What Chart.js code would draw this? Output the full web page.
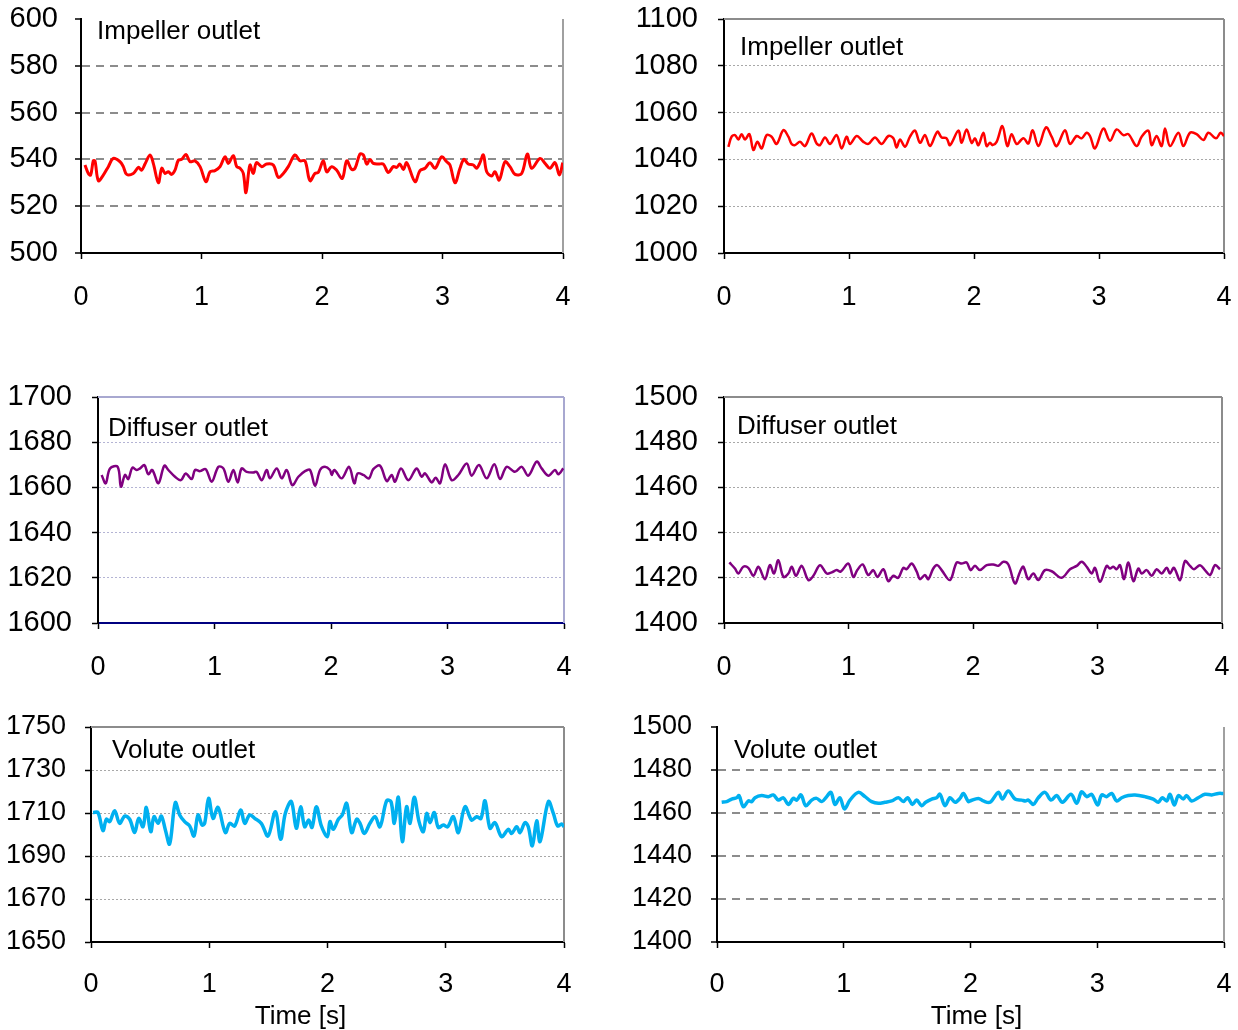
<!DOCTYPE html>
<html>
<head>
<meta charset="utf-8">
<script src="https://cdn.jsdelivr.net/npm/chart.js@4/dist/chart.umd.min.js"></script>
<style>
  html, body { margin: 0; padding: 0; background: #fff; overflow: hidden; }
  #wrap { position: relative; width: 1238px; height: 1030px; }
  #wrap canvas { position: absolute; left: 0; top: 0; }
</style>
</head>
<body>
<div id="wrap">
  <canvas id="c1" width="1238" height="1030"></canvas>
  <canvas id="c2" width="1238" height="1030"></canvas>
  <canvas id="c3" width="1238" height="1030"></canvas>
  <canvas id="c4" width="1238" height="1030"></canvas>
  <canvas id="c5" width="1238" height="1030"></canvas>
  <canvas id="c6" width="1238" height="1030"></canvas>
</div>
<script>
// Impeller outlet, left
const impLeftT = [0.033,0.061,0.080,0.102,0.116,0.144,0.185,0.227,0.268,0.324,0.351,0.379,0.434,0.476,0.503,0.531,0.573,0.600,0.642,0.670,0.697,0.725,0.752,0.780,0.808,0.835,0.871,0.905,0.946,0.988,1.037,1.071,1.112,1.154,1.195,1.223,1.264,1.292,1.320,1.347,1.369,1.402,1.430,1.456,1.500,1.541,1.596,1.637,1.679,1.720,1.776,1.817,1.859,1.900,1.942,1.969,2.011,
  2.039,2.080,2.122,2.169,2.205,2.246,2.274,2.315,2.343,2.371,2.398,2.426,2.467,2.509,2.550,2.592,2.620,2.647,2.675,2.703,2.772,2.813,2.855,2.896,2.938,2.993,3.035,3.062,3.104,3.145,3.178,3.214,3.256,3.284,3.311,3.339,3.367,3.408,3.436,3.471,3.519,3.560,3.602,3.657,3.704,3.740,3.809,3.851,3.892,3.934,3.970,3.998];
const impLeftV = [537.6,534.0,533.3,539.4,539.4,530.9,533.3,536.9,540.4,539.0,536.9,533.6,534.0,536.6,535.4,538.0,541.9,538.3,530.0,536.2,534.0,534.7,533.6,535.4,539.7,540.0,542.1,539.0,539.4,536.9,530.5,534.7,535.2,536.9,541.1,538.3,541.6,536.9,536.2,534.0,525.8,537.6,534.0,538.6,536.9,538.0,537.6,532.3,534.0,536.9,541.9,539.4,539.4,530.9,534.0,534.4,539.4,
  534.7,536.9,535.4,531.9,539.4,535.7,536.2,542.3,541.9,538.0,540.0,538.3,538.0,538.0,534.4,536.9,536.6,538.0,535.7,538.6,530.5,535.2,536.2,538.6,536.2,541.1,539.0,537.6,530.0,536.2,540.0,538.0,537.6,536.2,538.6,541.9,534.7,532.9,534.7,531.2,539.0,536.9,533.6,534.0,542.3,536.2,540.4,538.3,536.2,538.6,533.3,538.6];

// Impeller outlet, right
const impRightT = [0.035,0.061,0.088,0.115,0.141,0.168,0.203,0.235,0.267,0.301,0.341,0.381,0.421,0.475,0.515,0.541,0.568,0.608,0.648,0.701,0.741,0.768,0.808,0.848,0.901,0.941,0.981,1.008,1.061,1.115,1.155,1.208,1.261,1.315,1.355,1.381,1.408,1.448,1.488,1.528,1.568,1.608,1.648,1.707,1.741,1.781,1.808,1.875,1.901,1.941,1.981,
  2.008,2.035,2.075,2.101,2.128,2.149,2.181,2.227,2.267,2.301,2.341,2.395,2.435,2.469,2.515,2.576,2.621,2.661,2.728,2.768,2.821,2.861,2.901,2.928,2.968,3.035,3.088,3.141,3.195,3.235,3.301,3.341,3.395,3.421,3.461,3.501,3.528,3.568,3.635,3.675,3.728,3.781,3.835,3.875,3.936,3.973,4.0];
const impRightV = [1045.4,1049.7,1050.4,1048.5,1050.8,1048.5,1050.8,1044.0,1047.5,1044.7,1050.4,1049.7,1046.6,1052.5,1049.7,1046.6,1046.1,1047.5,1045.7,1051.1,1046.8,1046.1,1049.4,1046.6,1050.4,1044.7,1049.7,1046.6,1050.0,1047.5,1046.6,1049.4,1046.6,1050.0,1049.0,1045.1,1048.5,1045.4,1049.7,1052.3,1047.1,1050.4,1045.7,1051.8,1049.4,1049.0,1046.1,1052.3,1047.1,1052.8,1047.1,
  1049.0,1046.1,1051.4,1045.7,1047.1,1046.1,1047.5,1054.2,1045.7,1050.8,1046.6,1049.0,1046.8,1052.5,1045.7,1053.7,1049.7,1045.7,1052.5,1046.6,1050.0,1049.0,1051.4,1050.0,1044.7,1053.2,1048.0,1052.8,1050.4,1050.8,1045.7,1049.7,1052.3,1046.1,1050.0,1045.7,1053.2,1045.7,1051.4,1045.7,1051.4,1050.8,1048.3,1051.4,1049.0,1051.4,1050.0];

// Diffuser outlet, left
const difLeftT = [0.031,0.066,0.103,0.169,0.197,0.232,0.260,0.295,0.332,0.361,0.398,0.432,0.466,0.518,0.569,0.604,0.661,0.712,0.753,0.804,0.833,0.876,0.924,0.976,1.033,1.076,1.119,1.162,1.199,1.233,1.276,1.333,1.362,1.405,1.448,1.476,1.534,1.577,1.620,1.668,1.720,1.777,1.820,1.863,1.906,1.948,1.991,
  2.006,2.029,2.092,2.155,2.200,2.229,2.278,2.326,2.363,2.421,2.478,2.521,2.549,2.601,2.664,2.735,2.778,2.807,2.864,2.898,2.936,2.979,3.036,3.093,3.165,3.207,3.270,3.336,3.402,3.451,3.508,3.579,3.637,3.694,3.765,3.808,3.866,3.923,3.951,3.994];
const difLeftV = [1665.5,1661.8,1668.4,1669.1,1660.3,1665.5,1663.7,1668.7,1667.7,1668.4,1669.9,1665.8,1667.7,1661.8,1669.6,1667.7,1664.7,1663.2,1666.2,1663.7,1667.7,1667.2,1668.1,1662.5,1669.1,1668.4,1662.5,1667.7,1662.2,1668.4,1666.9,1666.6,1666.9,1663.2,1667.7,1664.0,1668.4,1664.0,1667.7,1661.0,1664.7,1667.2,1667.7,1660.7,1667.7,1669.1,1667.7,
  1665.5,1667.7,1664.0,1669.1,1661.8,1666.2,1665.5,1664.0,1668.1,1669.6,1662.8,1665.5,1662.5,1668.4,1663.2,1668.4,1664.7,1666.2,1662.2,1664.3,1661.8,1670.2,1663.2,1665.5,1670.6,1665.2,1669.9,1664.0,1670.2,1663.7,1669.1,1666.9,1669.1,1665.2,1671.4,1668.4,1665.2,1667.7,1665.8,1668.4];

// Diffuser outlet, right
const difRightT = [0.043,0.088,0.115,0.155,0.195,0.236,0.276,0.329,0.369,0.402,0.436,0.477,0.517,0.544,0.578,0.624,0.677,0.718,0.771,0.825,0.865,0.905,0.937,0.999,1.039,1.071,1.114,1.159,1.199,1.232,1.280,1.320,1.360,1.400,1.440,1.467,1.507,1.548,1.574,1.614,1.641,1.681,1.713,1.748,1.815,1.869,1.909,1.949,1.981,2.016,
  2.056,2.110,2.163,2.203,2.244,2.284,2.337,2.378,2.404,2.444,2.485,2.525,2.578,2.632,2.712,2.779,2.833,2.873,2.913,2.953,2.980,3.020,3.074,3.100,3.127,3.154,3.181,3.213,3.248,3.288,3.328,3.355,3.395,3.435,3.475,3.515,3.556,3.582,3.614,3.663,3.703,3.743,3.775,3.823,3.863,3.904,3.944,3.984];
const difRightV = [1426.8,1424.1,1421.9,1424.9,1424.4,1420.9,1424.9,1419.4,1425.6,1421.9,1427.8,1420.4,1421.9,1424.9,1420.9,1425.3,1419.0,1420.9,1425.6,1421.9,1422.4,1423.4,1422.7,1426.3,1420.4,1423.4,1425.9,1421.2,1423.4,1420.4,1423.8,1418.5,1420.9,1420.0,1424.4,1423.8,1426.3,1422.7,1419.4,1421.2,1419.4,1424.1,1425.6,1423.4,1419.0,1426.8,1426.3,1426.8,1423.4,1425.3,
  1423.4,1425.6,1425.9,1425.3,1427.1,1425.9,1417.5,1422.7,1424.9,1419.4,1421.9,1419.0,1423.4,1422.9,1420.0,1423.8,1425.3,1427.1,1424.9,1421.9,1424.4,1418.2,1425.3,1424.1,1424.9,1423.8,1425.6,1419.4,1426.8,1418.5,1424.1,1421.9,1423.4,1420.9,1423.8,1421.9,1424.4,1421.9,1424.4,1419.0,1427.4,1425.3,1423.8,1425.6,1423.4,1421.2,1425.6,1423.8];

// Volute outlet, left
const volLeftT = [0.017,0.059,0.101,0.130,0.158,0.200,0.242,0.285,0.327,0.369,0.403,0.440,0.468,0.505,0.533,0.567,0.595,0.629,0.665,0.713,0.750,0.792,0.834,0.871,0.905,0.939,0.961,0.995,1.032,1.074,1.136,1.173,1.215,1.266,1.300,1.342,1.384,1.440,1.497,1.559,1.604,1.643,1.694,1.736,1.773,1.807,1.841,1.869,1.906,1.948,1.999,
  2.021,2.049,2.092,2.125,2.162,2.204,2.247,2.275,2.311,2.359,2.402,2.444,2.500,2.537,2.565,2.599,2.633,2.669,2.698,2.734,2.774,2.810,2.839,2.867,2.903,2.937,2.980,3.016,3.064,3.106,3.163,3.219,3.261,3.298,3.332,3.374,3.416,3.473,3.529,3.557,3.600,3.628,3.670,3.698,3.732,3.769,3.797,3.868,3.910,3.946,3.980,4.0];
const volLeftV = [1710.2,1710.2,1701.8,1707.1,1706.0,1711.1,1705.2,1708.6,1707.1,1700.9,1707.5,1703.6,1712.6,1701.3,1708.3,1705.2,1708.6,1702.1,1695.6,1714.8,1709.1,1706.0,1704.0,1699.3,1709.1,1704.4,1705.2,1716.8,1707.5,1712.6,1700.9,1705.2,1704.0,1711.4,1705.2,1709.1,1707.5,1705.2,1699.3,1710.6,1697.8,1709.8,1715.3,1702.9,1712.9,1703.6,1706.7,1703.3,1712.9,1704.0,1699.0,
  1706.0,1702.4,1707.1,1709.1,1714.5,1700.9,1707.1,1705.2,1700.5,1705.2,1708.3,1703.6,1715.7,1715.3,1705.2,1717.3,1696.7,1712.9,1705.2,1717.3,1706.0,1701.3,1709.8,1705.5,1710.2,1703.3,1704.4,1703.6,1708.3,1700.9,1712.9,1706.7,1708.3,1707.5,1715.7,1702.9,1705.5,1699.0,1702.4,1700.5,1703.6,1700.9,1705.5,1703.6,1694.7,1706.4,1696.7,1715.3,1709.8,1704.0,1704.9,1703.6];

// Volute outlet, right
const volRightT = [0.037,0.076,0.116,0.155,0.174,0.208,0.247,0.274,0.300,0.352,0.405,0.444,0.484,0.523,0.563,0.602,0.629,0.663,0.700,0.747,0.786,0.826,0.865,0.899,0.931,0.970,1.005,1.049,1.115,1.168,1.220,1.273,1.325,1.378,1.431,1.470,1.504,1.541,1.575,1.615,1.646,1.694,1.733,1.759,1.799,1.838,1.878,1.917,1.943,1.983,
  1.996,2.062,2.101,2.154,2.220,2.251,2.298,2.351,2.404,2.433,2.456,2.496,2.535,2.588,2.635,2.680,2.725,2.793,2.838,2.877,2.917,2.956,3.003,3.035,3.074,3.114,3.153,3.193,3.245,3.298,3.377,3.442,3.482,3.513,3.548,3.574,3.608,3.640,3.679,3.705,3.745,3.797,3.850,3.903,3.955,3.995];
const volRightV = [1465.0,1465.3,1466.5,1467.1,1468.1,1462.9,1465.6,1465.3,1467.1,1468.1,1467.6,1468.4,1466.0,1467.1,1464.0,1466.8,1466.0,1468.4,1463.4,1466.0,1466.8,1465.3,1467.6,1469.6,1464.0,1467.1,1461.9,1466.0,1469.6,1467.6,1465.3,1464.5,1465.0,1465.6,1467.1,1465.3,1467.1,1464.0,1466.0,1463.4,1465.0,1466.5,1467.1,1468.7,1463.4,1467.1,1465.0,1466.8,1469.1,1465.3,
  1465.6,1466.8,1465.6,1465.0,1469.6,1466.5,1470.2,1466.5,1466.0,1465.6,1466.0,1464.0,1467.1,1469.6,1466.0,1468.1,1465.0,1468.7,1464.5,1469.9,1467.6,1468.7,1463.7,1468.4,1467.6,1469.1,1465.6,1467.1,1468.1,1468.4,1467.6,1466.5,1465.0,1467.1,1465.6,1468.7,1463.7,1468.1,1466.5,1468.1,1465.6,1467.1,1468.7,1468.4,1469.1,1469.1];

const timeTicks = [0, 1, 2, 3, 4];
const yRanges = [[500, 600], [1000, 1100], [1600, 1700], [1400, 1500], [1650, 1750], [1400, 1500]];
const panelNames = ["Impeller outlet", "Impeller outlet", "Diffuser outlet", "Diffuser outlet", "Volute outlet", "Volute outlet"];
const xTitle = "Time [s]";

const FONT = "'Liberation Sans', Arial, sans-serif";
const W = 1238, H = 1030;

// plot frame (top/right), panel name and the time title
const panelDecor = {
  id: "panelDecor",
  beforeDatasetsDraw(chart, args, o) {
    const { ctx, chartArea: a } = chart;
    if (!o.frameColor) return;
    ctx.save();
    ctx.strokeStyle = o.frameColor;
    ctx.lineWidth = 2;
    ctx.beginPath();
    if (o.frameTop) { ctx.moveTo(a.left, a.top); ctx.lineTo(a.right, a.top); }
    ctx.moveTo(a.right, a.top); ctx.lineTo(a.right, a.bottom);
    ctx.stroke();
    ctx.restore();
  },
  afterDraw(chart, args, o) {
    const { ctx, chartArea: a } = chart;
    ctx.save();
    ctx.font = "26px " + FONT;
    ctx.fillStyle = "#000";
    ctx.textBaseline = "middle";
    ctx.fillText(o.label, a.left + o.dx, a.top + o.dy);
    if (o.title) {
      ctx.textAlign = "center";
      ctx.fillText(xTitle, (a.left + a.right) / 2 + o.titleDx, a.bottom + 75);
    }
    ctx.restore();
  },
};

// plot rectangles and looks per panel
const panels = [
  { id: "c1", t: impLeftT, v: impLeftV, L: 81, T: 19, R: 563, B: 253, color: "#ff0000", width: 3, yFont: 29, yPad: 17, xPad: 22,
    grid: "#8c8c8c", gridW: 2, dash: [8, 6], frame: "#a0a0a0", frameTop: false, bottomAxis: "#000", dx: 16, dy: 13, title: false },
  { id: "c2", t: impRightT, v: impRightV, L: 724, T: 19, R: 1224, B: 253, color: "#ff0000", width: 2.5, yFont: 29, yPad: 20, xPad: 22,
    grid: "#a8a8a8", gridW: 1, dash: [2, 2], frame: "#8c8c8c", frameTop: true, bottomAxis: "#000", dx: 16, dy: 29, title: false },
  { id: "c3", t: difLeftT, v: difLeftV, L: 98, T: 397, R: 564, B: 623, color: "#800080", width: 2.5, yFont: 29, yPad: 20, xPad: 22,
    grid: "#b4b4d4", gridW: 1, dash: [2, 2], frame: "#a8a8d0", frameTop: true, bottomAxis: "#000080", dx: 10, dy: 32, title: false },
  { id: "c4", t: difRightT, v: difRightV, L: 724, T: 397, R: 1222, B: 623, color: "#800080", width: 2.5, yFont: 29, yPad: 20, xPad: 22,
    grid: "#a8a8a8", gridW: 1, dash: [2, 2], frame: "#8c8c8c", frameTop: true, bottomAxis: "#000", dx: 13, dy: 30, title: false },
  { id: "c5", t: volLeftT, v: volLeftV, L: 91, T: 727, R: 564, B: 942, color: "#00b0f0", width: 3.5, yFont: 27, yPad: 19, xPad: 20,
    grid: "#a8a8a8", gridW: 1, dash: [2, 2], frame: "#8c8c8c", frameTop: true, bottomAxis: "#000", dx: 21, dy: 24, title: true, titleDx: -27 },
  { id: "c6", t: volRightT, v: volRightV, L: 717, T: 727, R: 1224, B: 942, color: "#00b0f0", width: 3.5, yFont: 27, yPad: 19, xPad: 20,
    grid: "#8c8c8c", gridW: 2, dash: [8, 6], frame: "#a0a0a0", frameTop: false, bottomAxis: "#000", dx: 17, dy: 24, title: true, titleDx: 6 },
];

const Y_AXIS_W = 90;
const X_AXIS_H = 70;

panels.forEach(function (p, i) {
  const [yMin, yMax] = yRanges[i];
  const points = p.t.map(function (t, k) { return { x: t, y: p.v[k] }; });

  new Chart(document.getElementById(p.id), {
    type: "line",
    data: {
      datasets: [{
        data: points,
        borderColor: p.color,
        borderWidth: p.width,
        pointRadius: 0,
        tension: 0.35,
        fill: false,
      }],
    },
    options: {
      responsive: false,
      animation: false,
      events: [],
      layout: { padding: { left: p.L - Y_AXIS_W, top: p.T, right: W - p.R, bottom: H - p.B - X_AXIS_H } },
      plugins: {
        legend: { display: false },
        tooltip: { enabled: false },
        panelDecor: { label: panelNames[i], dx: p.dx, dy: p.dy, frameColor: p.frame, frameTop: p.frameTop,
          title: p.title, titleDx: p.titleDx || 0 },
      },
      scales: {
        x: {
          type: "linear",
          min: 0,
          max: 4,
          afterBuildTicks: function (s) { s.ticks = timeTicks.map(function (v) { return { value: v }; }); },
          // fixed size, and no extra room asked for the end labels
          afterFit: function (s) { s.height = X_AXIS_H; s.paddingLeft = 0; s.paddingRight = 0; },
          ticks: { color: "#000", font: { size: 27, family: FONT }, padding: p.xPad, maxRotation: 0,
            callback: function (v) { return String(v); } },
          grid: { drawOnChartArea: false, drawTicks: true, tickLength: 6, tickColor: "#000", tickWidth: 1.5 },
          border: { display: true, color: p.bottomAxis, width: 2 },
        },
        y: {
          min: yMin,
          max: yMax,
          afterFit: function (s) { s.width = Y_AXIS_W; s.paddingTop = 0; s.paddingBottom = 0; },
          ticks: { stepSize: 20, color: "#000", font: { size: p.yFont, family: FONT }, padding: p.yPad,
            callback: function (v) { return String(v); } },
          grid: {
            color: function (c) {
              return c.tick && (c.tick.value === yMin || c.tick.value === yMax) ? "rgba(0,0,0,0)" : p.grid;
            },
            lineWidth: p.gridW,
            drawTicks: true,
            tickLength: 6,
            tickColor: "#000",
            tickWidth: 1.5,
          },
          border: { display: true, color: "#000", width: 2, dash: p.dash },
        },
      },
    },
    plugins: [panelDecor],
  });
});
</script>
</body>
</html>
